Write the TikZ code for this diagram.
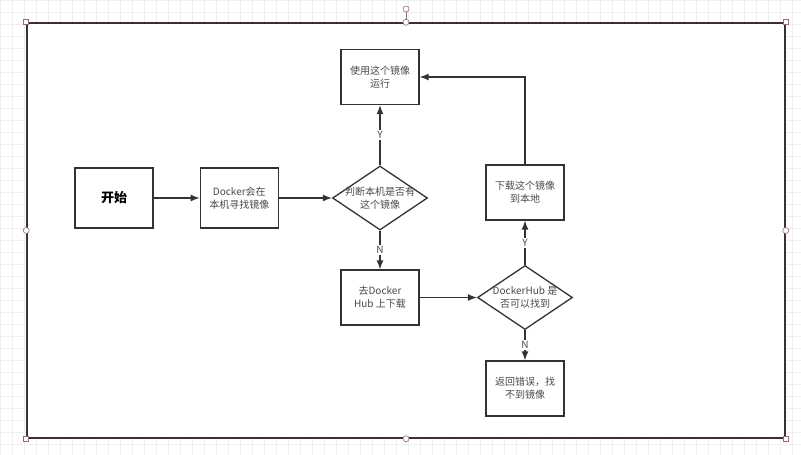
\documentclass[tikz,border=0pt]{standalone}
\usepackage{fontspec}
\newfontfamily\cjk{Noto Sans CJK SC}
\usepackage{xcolor}
\usetikzlibrary{arrows.meta,positioning,shapes.geometric,calc}
\definecolor{inkline}{HTML}{333333}
\definecolor{inktext}{HTML}{4A4A4A}
\definecolor{gridgray}{HTML}{EFEFEF}
\definecolor{handle}{HTML}{9A6B70}
\definecolor{framecol}{HTML}{3A3035}

\begin{document}
\begin{tikzpicture}[x=1pt,y=-1pt,>={Latex[length=9pt,width=7pt]},
  font=\cjk\fontsize{10}{13}\selectfont,
  box/.style={draw=inkline,line width=1.3pt,minimum width=78pt,minimum height=55pt,inner sep=2pt,align=center,text=inktext},
  dia/.style={draw=inkline,line width=1.3pt,diamond,minimum width=95pt,minimum height=64pt,inner sep=0pt},
  txt/.style={align=center,text=inktext,inner sep=0pt},
  yn/.style={fill=white,inner sep=1.5pt,text=inktext},
  flow/.style={->,draw=inkline,line width=1.3pt},
  hsq/.style={draw=handle,fill=white,line width=0.6pt,minimum size=5pt,inner sep=0pt},
  hci/.style={draw=handle,fill=white,line width=0.6pt,circle,minimum size=6pt,inner sep=0pt}]
\useasboundingbox (0,0) rectangle (801,455);
% background and selection frame
\draw[gridgray,line width=0.6pt,xstep=12pt,ystep=12pt] (0,0) grid (801,455);
\node[draw=framecol,fill=white,line width=1.5pt,minimum width=758pt,minimum height=415pt,inner sep=0pt] (frame) at (406,230.5) {};

% nodes
\node[box,minimum height=60pt,font=\cjk\fontsize{13}{15}\selectfont\bfseries,text=black] (start) at (114,198) {开始};
\node[box,minimum height=60pt,right=46pt of start] (local) {Docker会在\\本机寻找镜像};
\node[dia] (ask) at (380,198) {};
\node[txt] (askt) at (ask.center) {判断本机是否有\\这个镜像};
\node[box] (run) at (380,77) {使用这个镜像\\运行};
\node[box] (hub) at (380,297.5) {去Docker\\Hub 上下载};
\node[dia] (found) at (525,297.5) {};
\node[txt] (foundt) at (found.center) {DockerHub 是\\否可以找到};
\node[box] (pull) at (525,192.5) {下载这个镜像\\到本地};
\node[box] (fail) at (525,388.5) {返回错误，找\\不到镜像};

% connectors
\draw[flow] (start) -- (local);
\draw[flow] (local) -- (ask);
\draw[flow] (ask) -- node[yn] {Y} (run);
\draw[flow] (ask) -- node[yn] {N} (hub);
\draw[flow] (hub) -- (found);
\draw[flow] (found) -- node[yn] {Y} (pull);
\draw[flow] (found) -- node[yn] {N} (fail);
\draw[flow] (pull.north) |- (run.east);

% frame handles
\coordinate (rot) at (406,9);
\draw[handle,line width=0.6pt] (frame.north) -- (rot);
\node[hci] (hrot) at (rot) {};
\node[hci] (hn) at (frame.north) {};
\node[hci] (hs) at (frame.south) {};
\node[hci] (hw) at (frame.west) {};
\node[hci] (he) at (frame.east) {};
\node[hsq] (hnw) at (frame.north west) {};
\node[hsq] (hne) at (frame.north east) {};
\node[hsq] (hsw) at (frame.south west) {};
\node[hsq] (hse) at (frame.south east) {};
\end{tikzpicture}
\end{document}
